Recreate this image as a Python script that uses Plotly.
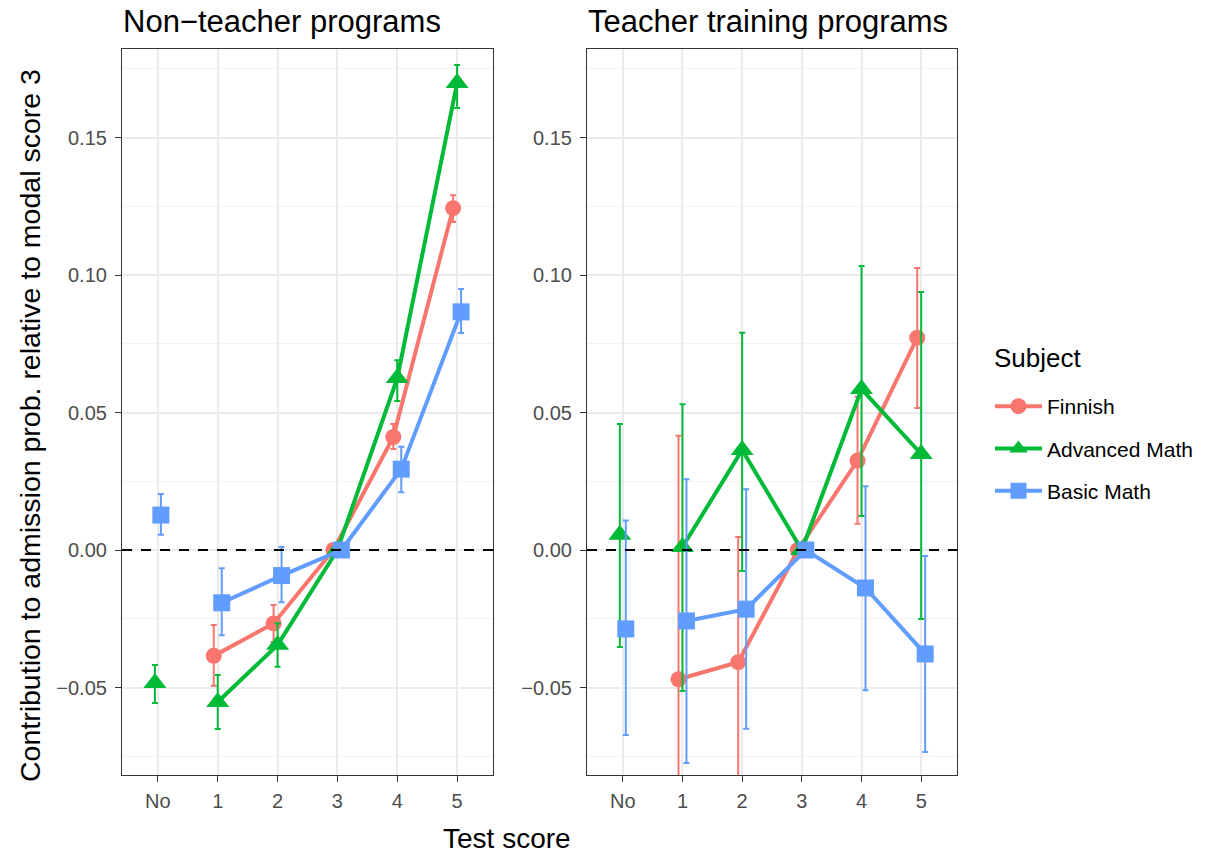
import plotly.graph_objects as go

# Test score categories (x axis)
scores = ["No", "1", "2", "3", "4", "5"]
subjects = ["Finnish", "Advanced Math", "Basic Math"]

# Non-teacher programs: estimate, upper and lower confidence bounds
fin_nt = [None, -0.0385, -0.0267, 0.0, 0.0411, 0.1243]
fin_nt_hi = [None, -0.0273, -0.0200, None, 0.0458, 0.1290]
fin_nt_lo = [None, -0.0494, -0.0335, None, 0.0367, 0.1193]
adv_nt = [-0.0484, -0.0553, -0.0345, 0.0, 0.0625, 0.1698]
adv_nt_hi = [-0.0418, -0.0455, -0.0266, None, 0.0690, 0.1764]
adv_nt_lo = [-0.0556, -0.0651, -0.0425, None, 0.0542, 0.1607]
bas_nt = [0.0127, -0.0192, -0.0093, 0.0, 0.0294, 0.0866]
bas_nt_hi = [0.0204, -0.0066, 0.0011, None, 0.0375, 0.0949]
bas_nt_lo = [0.0055, -0.0310, -0.0190, None, 0.0210, 0.0789]

# Teacher training programs
fin_t = [None, -0.0470, -0.0408, 0.0, 0.0325, 0.0772]
fin_t_hi = [None, 0.0415, 0.0047, None, 0.0557, 0.1025]
fin_t_lo = [None, -0.1350, -0.1280, None, 0.0095, 0.0516]
adv_t = [0.0055, 0.0011, 0.0364, 0.0, 0.0585, 0.0349]
adv_t_hi = [0.0458, 0.0530, 0.0790, None, 0.1033, 0.0938]
adv_t_lo = [-0.0353, -0.0513, -0.0076, None, 0.0124, -0.0251]
bas_t = [-0.0287, -0.0258, -0.0215, 0.0, -0.0138, -0.0378]
bas_t_hi = [0.0107, 0.0257, 0.0221, None, 0.0232, -0.0022]
bas_t_lo = [-0.0673, -0.0775, -0.0650, None, -0.0510, -0.0735]

colors = {"Finnish": "#F8766D", "Advanced Math": "#00BA38", "Basic Math": "#619CFF"}
symbols = {"Finnish": "circle", "Advanced Math": "triangle-up", "Basic Math": "square"}
msizes = {"Finnish": 16, "Advanced Math": 20, "Basic Math": 17}

panels = [
    {"Finnish": (fin_nt, fin_nt_hi, fin_nt_lo),
     "Advanced Math": (adv_nt, adv_nt_hi, adv_nt_lo),
     "Basic Math": (bas_nt, bas_nt_hi, bas_nt_lo)},
    {"Finnish": (fin_t, fin_t_hi, fin_t_lo),
     "Advanced Math": (adv_t, adv_t_hi, adv_t_lo),
     "Basic Math": (bas_t, bas_t_hi, bas_t_lo)},
]

DODGE = 0.2
XRANGE = [-0.6, 5.6]
YRANGE = [-0.08182, 0.18218]


def dodged_positions(panel):
    """Side-by-side offsets per category, like position_dodge(width=0.2)."""
    pos = {s: [None] * len(scores) for s in subjects}
    for i in range(len(scores)):
        present = [s for s in subjects if panel[s][0][i] is not None]
        n = len(present)
        for k, s in enumerate(present):
            pos[s][i] = i + (k - (n - 1) / 2) * DODGE / n
    return pos


fig = go.Figure()

for p, panel in enumerate(panels):
    xa = "x" if p == 0 else "x2"
    ya = "y" if p == 0 else "y2"
    pos = dodged_positions(panel)
    for s in subjects:
        est, hi, lo = panel[s]
        plus = [None if (h is None or e is None) else h - e for h, e in zip(hi, est)]
        minus = [None if (l is None or e is None) else e - l for l, e in zip(lo, est)]
        # "No" category: point with interval, not joined to the score line
        groups = [([0], "markers", False), ([1, 2, 3, 4, 5], "lines+markers", p == 0)]
        for idx, mode, show in groups:
            idx = [i for i in idx if est[i] is not None]
            if not idx:
                continue
            fig.add_trace(go.Scatter(
                x=[pos[s][i] for i in idx],
                y=[est[i] for i in idx],
                mode=mode,
                name=s,
                legendgroup=s,
                showlegend=show,
                line=dict(color=colors[s], width=4),
                marker=dict(color=colors[s], symbol=symbols[s], size=msizes[s]),
                error_y=dict(type="data", symmetric=False,
                             array=[plus[i] for i in idx],
                             arrayminus=[minus[i] for i in idx],
                             color=colors[s], thickness=2, width=3),
                xaxis=xa, yaxis=ya,
            ))

W, H = 1205, 856
ydom = [1 - 775 / H, 1 - 49 / H]
xdoms = [[122 / W, 493 / W], [587 / W, 957 / W]]
font = "Liberation Sans, Arial, sans-serif"

axis_common = dict(
    showline=True, linecolor="#333333", linewidth=1.2, mirror=True,
    ticks="outside", ticklen=6, tickwidth=1.2, tickcolor="#333333",
    tickfont=dict(family=font, size=20, color="#4D4D4D"),
    showgrid=True, gridcolor="#EBEBEB", gridwidth=1.6, zeroline=False,
)

for p in range(2):
    sfx = "" if p == 0 else "2"
    fig.layout["xaxis" + sfx] = dict(
        axis_common, domain=xdoms[p], range=XRANGE,
        tickmode="array", tickvals=list(range(len(scores))), ticktext=scores,
        anchor="y" + sfx, ticklabelstandoff=2,
    )
    fig.layout["yaxis" + sfx] = dict(
        axis_common, domain=ydom, range=YRANGE,
        tickmode="array", tickvals=[-0.05, 0.0, 0.05, 0.10, 0.15],
        ticktext=["\u22120.05", "0.00", "0.05", "0.10", "0.15"],
        minor=dict(tickvals=[-0.075, -0.025, 0.025, 0.075, 0.125, 0.175],
                   showgrid=True, gridcolor="#F2F2F2", gridwidth=0.9, ticks=""),
        anchor="x" + sfx, ticklabelstandoff=4,
    )
    # dashed reference line at zero, drawn over the series
    fig.add_shape(type="line", xref="x" + sfx, yref="y" + sfx,
                  x0=XRANGE[0], x1=XRANGE[1], y0=0, y1=0, layer="above",
                  line=dict(color="black", width=2, dash="10px,9px"))

titles = ["Non\u2212teacher programs", "Teacher training programs"]
for p, t in enumerate(titles):
    fig.add_annotation(text=t, xref="paper", yref="paper", x=xdoms[p][0] - 1 / W,
                       y=1 - 22 / H, xanchor="left", yanchor="middle", showarrow=False,
                       font=dict(family=font, size=31, color="black"))

fig.add_annotation(text="Test score", xref="paper", yref="paper", x=507 / W, y=1 / H,
                   xanchor="center", yanchor="bottom", showarrow=False, borderpad=0,
                   font=dict(family=font, size=28, color="black"))
fig.add_annotation(text="Contribution to admission prob. relative to modal score 3",
                   xref="paper", yref="paper", x=30 / W, y=1 - 426 / H, textangle=-90,
                   xanchor="center", yanchor="middle", showarrow=False,
                   font=dict(family=font, size=28.5, color="black"))
# legend heading
fig.add_annotation(text="Subject", xref="paper", yref="paper", x=992 / W, y=1 - 358 / H,
                   xanchor="left", yanchor="middle", showarrow=False,
                   font=dict(family=font, size=26, color="black"))

fig.update_layout(
    width=W, height=H,
    margin=dict(l=0, r=0, t=0, b=0),
    paper_bgcolor="white", plot_bgcolor="white",
    font=dict(family=font),
    legend=dict(
        font=dict(family=font, size=21, color="black"),
        x=990 / W, y=1 - 386 / H, xanchor="left", yanchor="top",
        tracegroupgap=12, itemwidth=47, bgcolor="rgba(0,0,0,0)",
    ),
)

fig.write_html("out.html")
